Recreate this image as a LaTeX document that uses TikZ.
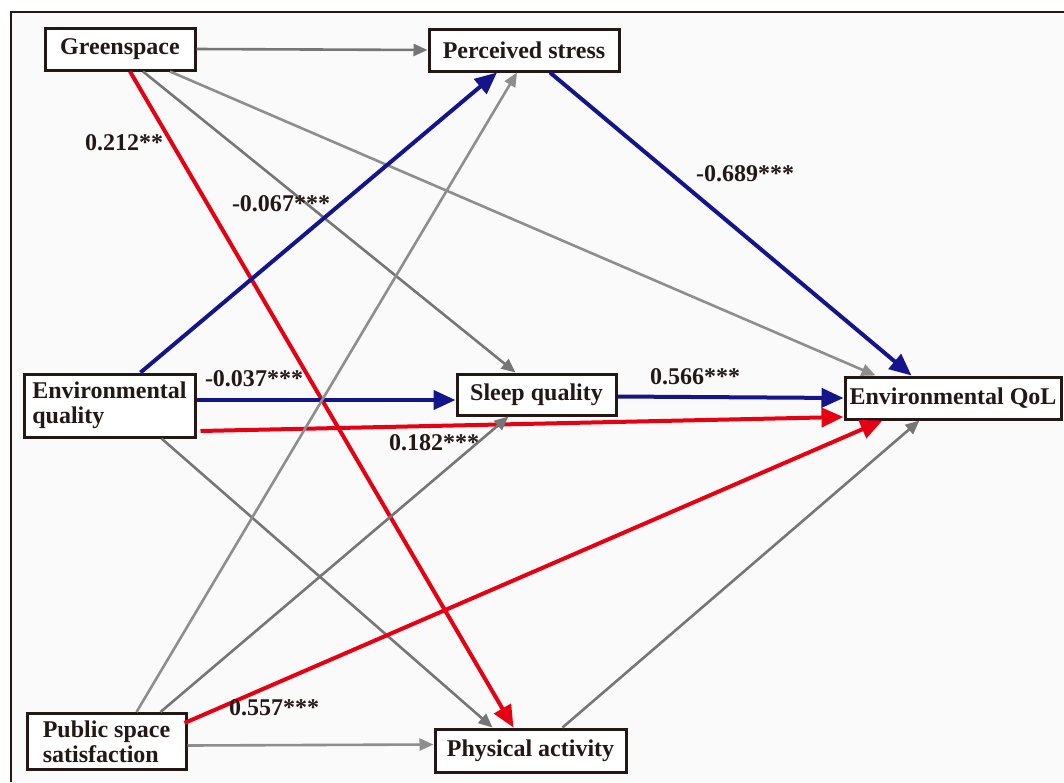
\documentclass[tikz,border=0pt]{standalone}
\usepackage{fontspec}
\setmainfont{Liberation Serif}
\usetikzlibrary{arrows.meta,calc}
\definecolor{ink}{RGB}{35,24,21}
\definecolor{pblue}{RGB}{20,20,140}
\definecolor{pred}{RGB}{230,0,18}
\definecolor{pgray}{RGB}{118,118,118}
\definecolor{lgray}{RGB}{142,142,142}
\definecolor{paper}{RGB}{250,250,250}

\begin{document}
\begin{tikzpicture}[x=1pt,y=-1pt,
    box/.style={draw=ink,line width=3pt,fill=white,inner sep=0pt,text=ink,
      font=\fontsize{24}{25}\selectfont\bfseries},
    coef/.style={inner sep=0pt,text=ink,font=\fontsize{24}{24}\selectfont\bfseries},
    sig/.style={line width=4pt,-{Triangle[length=22pt,width=19pt]}},
    ns/.style={line width=2.6pt,-{Triangle[length=14pt,width=12pt]}}]
  \useasboundingbox (0,0) rectangle (1064,782);
  \fill[paper] (11,12) rectangle (1064,782);
  \draw[ink,line width=1.5pt] (1064,12) -- (11,12) -- (11,782);
  % variables
  \node[box,minimum width=150,minimum height=42] (G) at (120,49) {Greenspace};
  \node[box,minimum width=190,minimum height=42] (P) at (524,50) {Perceived stress};
  \node[box,minimum width=171,minimum height=63,align=left] (EQ) at (109.5,405.5) {Environmental\\quality};
  \node[box,minimum width=159,minimum height=41] (SQ) at (536.5,394.5) {Sleep quality};
  \node[box,minimum width=216,minimum height=42] (QoL) at (953,398) {Environmental QoL};
  \node[box,minimum width=159,minimum height=56,align=left] (PS) at (106.5,741.5) {Public space\\satisfaction};
  \node[box,minimum width=191,minimum height=43] (PA) at (530.5,750.5) {Physical activity};
  % paths from greenspace
  \draw[ns,pgray] (G.east) -- (P.west);
  \draw[ns,pgray] ($(G.south)+(23,0)$) -- ($(SQ.north)+(-21,0)$);
  \draw[ns,lgray] ($(G.south)+(50,0)$) -- ($(QoL.north west)+(32,0)$);
  \draw[sig,pred] ($(G.south)+(10,0)$) -- ($(PA.north)+(-17,0)$);
  % paths from environmental quality
  \draw[sig,pblue] ($(EQ.north)+(31,0)$) -- ($(P.south)+(-27,0)$);
  \draw[sig,pblue] ($(EQ.east)+(0,-5.5)$) -- ($(SQ.west)+(0,5.5)$);
  \draw[sig,pred] ($(EQ.east)+(4,25.5)$) -- ($(QoL.west)+(0,19)$);
  \draw[ns,pgray] ($(EQ.south)+(52,0)$) -- ($(PA.north)+(-38,0)$);
  % paths from public space satisfaction
  \draw[ns,lgray] ($(PS.north)+(30,0)$) -- ($(P.south)+(-7,0)$);
  \draw[ns,pgray] ($(PS.north)+(54,0)$) -- ($(SQ.south)+(-28,0)$);
  \draw[sig,pred] ($(PS.north east)+(-3,11)$) -- ($(QoL.south west)+(39,0)$);
  \draw[ns,lgray] ($(PS.east)+(0,4)$) -- ($(PA.west)+(0,-6)$);
  % mediators to QoL
  \draw[sig,pblue] ($(P.south)+(26,0)$) -- ($(QoL.north west)+(68,0)$);
  \draw[sig,pblue] ($(SQ.east)+(0,2)$) -- (QoL.west);
  \draw[ns,pgray] ($(PA.north)+(32,0)$) -- ($(QoL.south west)+(76,0)$);
  % coefficients
  \node[coef] (c1) at (124,143) {0.212**};
  \node[coef] (c2) at (281,204) {-0.067***};
  \node[coef] (c3) at (254,379) {-0.037***};
  \node[coef] (c4) at (434,443) {0.182***};
  \node[coef] (c5) at (695,377) {0.566***};
  \node[coef] (c6) at (745,174) {-0.689***};
  \node[coef] (c7) at (274,708) {0.557***};
\end{tikzpicture}
\end{document}
